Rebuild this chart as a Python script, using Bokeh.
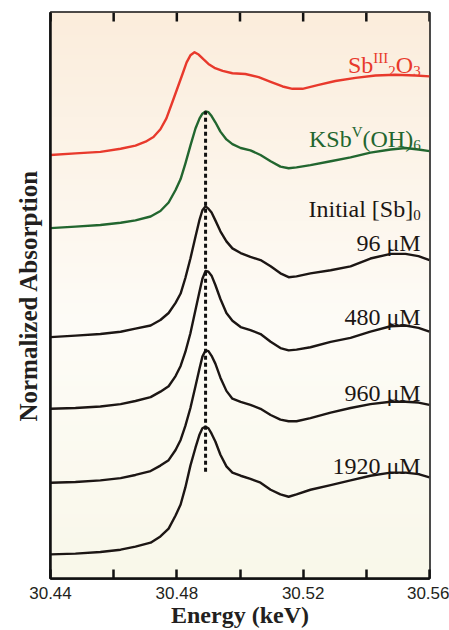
import numpy as np
from bokeh.plotting import figure
from bokeh.models import Range1d, FixedTicker, Label, PrintfTickFormatter
from bokeh.embed import file_html
from bokeh.resources import INLINE

# ---------------- data ----------------
x_ticks = [30.44, 30.48, 30.52, 30.56]
x_minor_ticks = [30.46, 30.50, 30.54]

# Sb(III)2O3 reference
e_sb2o3 = [30.4400, 30.4479, 30.4558, 30.4622, 30.4669, 30.4701, 30.4726, 30.4748, 30.4767,
           30.4786, 30.4802, 30.4818, 30.4831, 30.4843, 30.4856, 30.4869, 30.4884, 30.4900,
           30.4919, 30.4945, 30.4976, 30.5017, 30.5059, 30.5097, 30.5135, 30.5166, 30.5198,
           30.5249, 30.5302, 30.5366, 30.5429, 30.5492, 30.5556, 30.5600]
mu_sb2o3 = [0.00, 0.02, 0.04, 0.08, 0.12, 0.17, 0.23, 0.33, 0.47,
            0.68, 0.86, 1.04, 1.19, 1.28, 1.32, 1.29, 1.23, 1.17,
            1.12, 1.08, 1.05, 1.04, 1.00, 0.94, 0.88, 0.85, 0.85,
            0.90, 0.95, 0.99, 1.02, 1.03, 1.02, 1.01]

# common energy grid of the KSb(OH)6 reference and the samples
e_grid = [30.4400, 30.4479, 30.4558, 30.4622, 30.4669, 30.4717, 30.4748, 30.4774, 30.4796,
          30.4812, 30.4827, 30.4843, 30.4859, 30.4872, 30.4881, 30.4891, 30.4900, 30.4910,
          30.4922, 30.4938, 30.4957, 30.4976, 30.5002, 30.5033, 30.5065, 30.5097, 30.5128,
          30.5154, 30.5179, 30.5223, 30.5287, 30.5350, 30.5413, 30.5477, 30.5524, 30.5565,
          30.5600]

# KSb(V)(OH)6 reference
mu_ksb = [0.00, 0.02, 0.04, 0.07, 0.10, 0.15, 0.22, 0.33, 0.49,
          0.63, 0.83, 1.06, 1.28, 1.41, 1.47, 1.50, 1.49, 1.44,
          1.36, 1.24, 1.14, 1.08, 1.03, 1.00, 0.94, 0.86, 0.79,
          0.77, 0.78, 0.81, 0.86, 0.91, 0.97, 1.01, 1.03, 1.01,
          0.99]

# samples, initial [Sb]0
mu_96 = [0.00, 0.02, 0.04, 0.07, 0.11, 0.15, 0.22, 0.31, 0.44,
         0.56, 0.76, 1.01, 1.29, 1.51, 1.63, 1.68, 1.65, 1.60,
         1.50, 1.36, 1.23, 1.14, 1.08, 1.03, 0.99, 0.91, 0.82,
         0.77, 0.78, 0.82, 0.86, 0.91, 1.01, 1.07, 1.07, 1.04,
         0.99]
mu_480 = [0.00, 0.01, 0.03, 0.06, 0.10, 0.15, 0.22, 0.29, 0.42,
          0.55, 0.73, 0.97, 1.27, 1.51, 1.67, 1.77, 1.76, 1.71,
          1.59, 1.41, 1.23, 1.13, 1.05, 1.01, 0.96, 0.86, 0.78,
          0.75, 0.76, 0.79, 0.86, 0.91, 0.99, 1.06, 1.07, 1.04,
          0.99]
mu_960 = [0.00, 0.01, 0.03, 0.06, 0.10, 0.15, 0.22, 0.29, 0.42,
          0.55, 0.73, 0.96, 1.24, 1.47, 1.62, 1.70, 1.69, 1.63,
          1.53, 1.35, 1.18, 1.08, 1.04, 1.00, 0.95, 0.87, 0.81,
          0.79, 0.79, 0.83, 0.90, 0.96, 1.01, 1.04, 1.04, 1.03,
          1.00]
mu_1920 = [0.00, 0.01, 0.03, 0.06, 0.10, 0.15, 0.23, 0.33, 0.50,
           0.64, 0.86, 1.14, 1.37, 1.54, 1.62, 1.64, 1.62, 1.55,
           1.45, 1.28, 1.13, 1.05, 1.01, 0.97, 0.92, 0.83, 0.77,
           0.74, 0.77, 0.83, 0.89, 0.95, 1.01, 1.05, 1.05, 1.03,
           0.99]

# vertical stacking offsets of the spectra
offsets = {"sb2o3": 5.44, "ksb": 4.50, "96": 3.10, "480": 2.18, "960": 1.23, "1920": 0.31}

sample_labels = ["96 \u03bcM", "480 \u03bcM", "960 \u03bcM", "1920 \u03bcM"]
dash_bottom = 1.37

# ---------------- styles ----------------
RED = "#e8392c"
GREEN = "#22662f"
BLACK = "#1c1614"
SERIF = "Liberation Serif"
SANS = "Liberation Sans"
Y_MAX = 7.27

p = figure(width=449, height=630, x_range=Range1d(30.44, 30.56), y_range=Range1d(0, Y_MAX),
           output_backend="svg", toolbar_location=None,
           min_border_left=50, min_border_right=20, min_border_top=12, min_border_bottom=0)
p.border_fill_color = "white"
p.outline_line_color = "#111111"
p.outline_line_width = 2.5
p.xgrid.visible = False
p.ygrid.visible = False

# background gradient (cream at bottom, near white in middle, peach at top)
n = 256
t = np.linspace(0.0, 1.0, n)
stop_pos = [0.0, 0.45, 1.0]
stop_col = [(249, 248, 234), (254, 252, 247), (251, 237, 220)]
img = np.empty((n, 1), dtype=np.uint32)
view = img.view(dtype=np.uint8).reshape((n, 1, 4))
for k in range(3):
    view[:, 0, k] = np.interp(t, stop_pos, [c[k] for c in stop_col]).astype(np.uint8)
view[:, 0, 3] = 255
p.image_rgba(image=[img], x=30.44, y=0, dw=0.12, dh=Y_MAX)

# spectra
series = [(e_sb2o3, mu_sb2o3, "sb2o3", RED), (e_grid, mu_ksb, "ksb", GREEN),
          (e_grid, mu_96, "96", BLACK), (e_grid, mu_480, "480", BLACK),
          (e_grid, mu_960, "960", BLACK), (e_grid, mu_1920, "1920", BLACK)]
for e, mu, key, col in series:
    p.line(e, np.array(mu) + offsets[key], line_color=col, line_width=2.4, line_join="round")

# dashed line at the Sb(V) white-line energy
i_pk = int(np.argmax(mu_ksb))
peak_e = e_grid[i_pk]
dash_top = mu_ksb[i_pk] + offsets["ksb"]
p.segment(x0=[peak_e], y0=[dash_bottom], x1=[peak_e], y1=[dash_top],
          line_color="#111111", line_width=3, line_dash="4 3")

# inward ticks along the top edge
p.ray(x=x_ticks + x_minor_ticks, y=[Y_MAX] * 7, length=9, length_units="screen",
      angle=-np.pi / 2, line_color="#111111", line_width=2.5)

# bottom axis
xa = p.xaxis[0]
xa.ticker = FixedTicker(ticks=x_ticks, minor_ticks=x_minor_ticks)
xa.formatter = PrintfTickFormatter(format="%.2f")
xa.major_tick_in = 9
xa.major_tick_out = 0
xa.minor_tick_in = 9
xa.minor_tick_out = 0
xa.major_tick_line_width = 2.5
xa.minor_tick_line_width = 2.5
xa.major_tick_line_color = "#111111"
xa.minor_tick_line_color = "#111111"
xa.axis_line_width = 2.5
xa.axis_line_color = "#111111"
xa.major_label_text_font = SANS
xa.major_label_text_font_size = "17px"
xa.major_label_text_color = "#231f20"
xa.major_label_standoff = 8
xa.axis_label = "Energy (keV)"
xa.axis_label_text_font = SERIF
xa.axis_label_text_font_style = "bold"
xa.axis_label_text_font_size = "24px"
xa.axis_label_text_color = "#231f20"
xa.axis_label_standoff = 0

# left axis (label only)
ya = p.yaxis[0]
ya.ticker = FixedTicker(ticks=[])
ya.major_tick_out = 0
ya.major_tick_in = 0
ya.minor_tick_out = 0
ya.major_label_standoff = 0
ya.axis_line_width = 2.5
ya.axis_line_color = "#111111"
ya.axis_label = "Normalized Absorption"
ya.axis_label_text_font = SERIF
ya.axis_label_text_font_style = "bold"
ya.axis_label_text_font_size = "25px"
ya.axis_label_text_color = "#231f20"
ya.axis_label_standoff = 9

# labels
W = {'S': .556, 'b': .5, 'I': .333, 'O': .722, 'K': .722, 'V': .722, '(': .333, ')': .333,
     'H': .722, 'n': .5, 'i': .278, 't': .278, 'a': .444, 'l': .278, ' ': .25, '[': .333,
     ']': .333}
X_RIGHT = 30.5572


def add_rich(pieces, y, color):
    off = 0.0
    for text, size, dy in reversed(pieces):
        p.add_layout(Label(x=X_RIGHT, y=y, x_offset=off, y_offset=dy, text=text,
                           text_align="right", text_baseline="alphabetic",
                           text_font=SERIF, text_font_size=f"{size}px", text_color=color))
        off -= size * sum(W.get(c, 0.5) for c in text)


add_rich([("Sb", 24, 0), ("III", 15, 7), ("2", 15, -6), ("O", 24, 0), ("3", 15, -6)], 6.59, RED)
add_rich([("KSb", 24, 0), ("V", 15, 7), ("(OH)", 24, 0), ("6", 15, -6)], 5.65, GREEN)
add_rich([("Initial [Sb]", 24, 0), ("0", 15, -6)], 4.74, BLACK)

label_y = [4.31, 3.36, 2.38, 1.45]
for txt, yy in zip(sample_labels, label_y):
    p.add_layout(Label(x=X_RIGHT, y=yy, text=txt, text_align="right", text_baseline="alphabetic",
                       text_font=SERIF, text_font_size="24px", text_color=BLACK))

open("out.html", "w").write(file_html(p, INLINE))
